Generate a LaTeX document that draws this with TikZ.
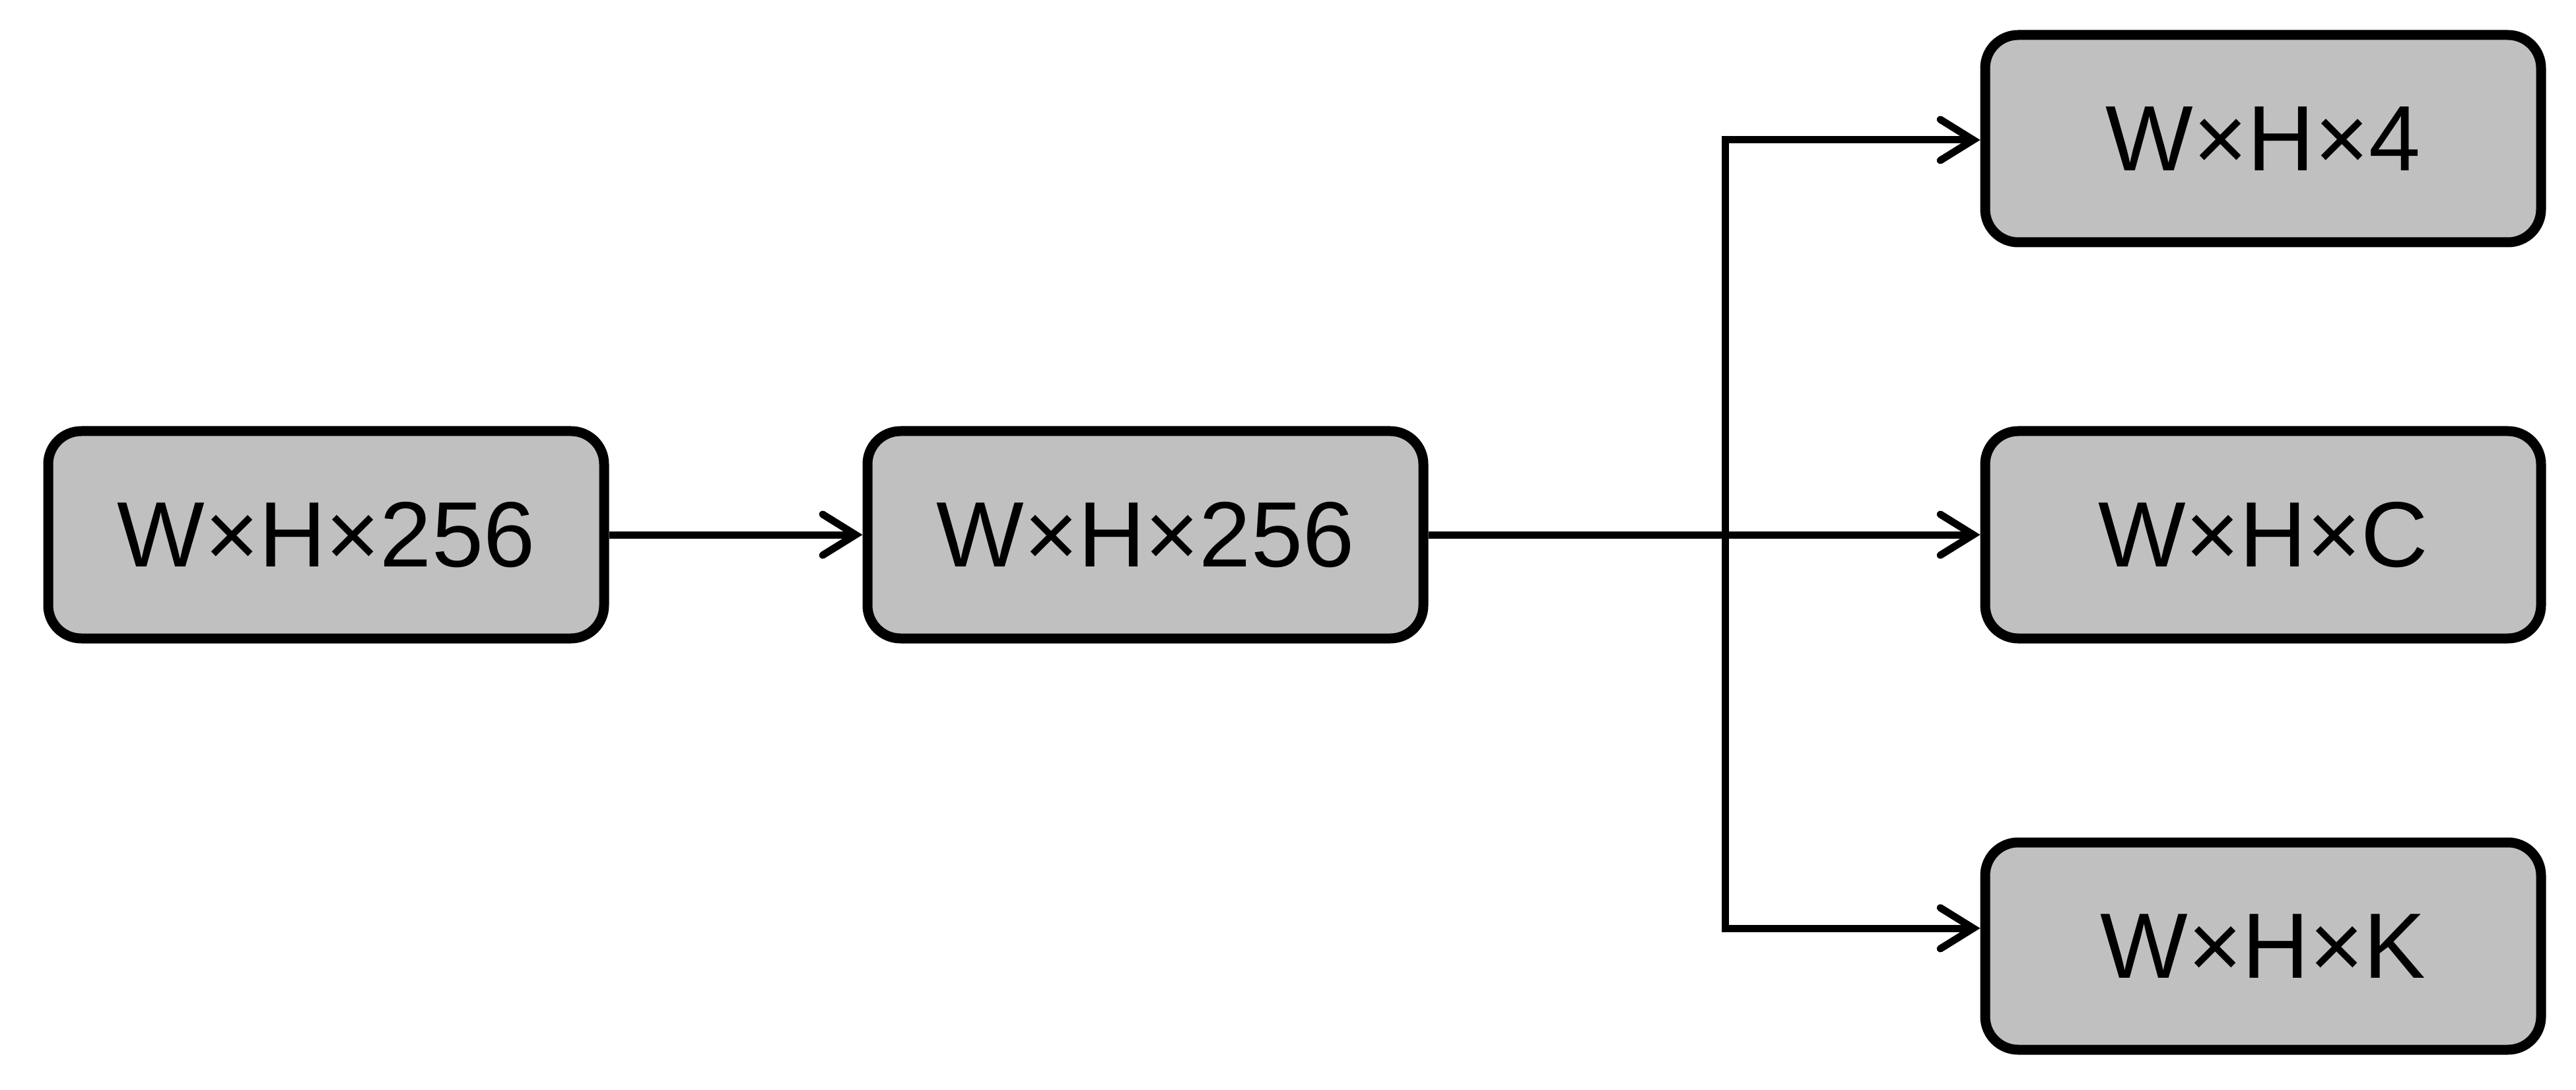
\documentclass[tikz,border=0pt]{standalone}
\usepackage{fontspec}
\setmainfont{Liberation Sans}
\usetikzlibrary{arrows.meta}
\definecolor{boxgray}{HTML}{C0C0C0}
\begin{document}
\begin{tikzpicture}[
  blockbox/.style={draw=black, fill=boxgray, line width=0.15cm, rounded corners=0.5cm,
    minimum width=8.42cm, minimum height=3.14cm, inner sep=0pt,
    font=\fontsize{40}{40}\selectfont},
  conn/.style={line width=0.11cm},
  arr/.style={conn, -{Straight Barb[length=0.5cm, width=0.62cm, line cap=round]}}
]
\useasboundingbox (0,0) rectangle (39.02,16.50);
\node[blockbox] (b1) at (4.94,8.40) {W×H×256};
\node[blockbox] (b2) at (17.35,8.40) {W×H×256};
\node[blockbox] (b3) at (34.28,14.40) {W×H×4};
\node[blockbox] (b4) at (34.28,8.40) {W×H×C};
\node[blockbox] (b5) at (34.28,2.17) {W×H×K};
\coordinate (ctop) at (26.13,14.38);
\coordinate (cbot) at (26.13,2.44);
\draw[arr] (b1.east) -- (b2.west);
\draw[arr] (b2.east) -- (b4.west);
\draw[arr] (cbot) -- (ctop) -- (ctop -| b3.west);
\draw[arr] (ctop) -- (cbot) -- (cbot -| b5.west);
\end{tikzpicture}
\end{document}
